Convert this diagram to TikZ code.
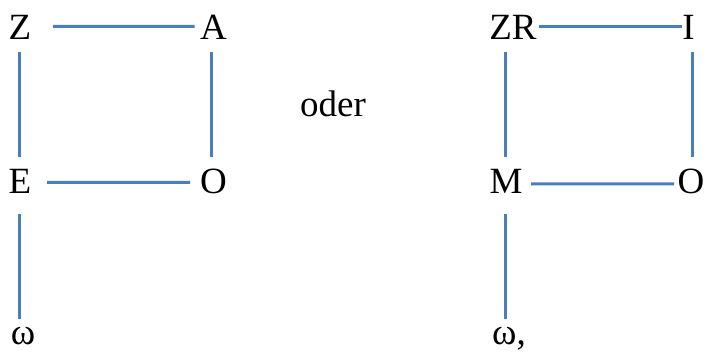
\documentclass[tikz,border=0pt]{standalone}
\usepackage{fontspec}
\setmainfont{Liberation Serif}
\definecolor{linkblue}{HTML}{4A7EBB}
\begin{document}
\begin{tikzpicture}[x=1pt,y=-1pt,
  lbl/.style={inner sep=0pt,anchor=base,font=\fontsize{37}{43}\selectfont},
  link/.style={draw=linkblue,line width=3pt}]
\useasboundingbox (0,0) rectangle (705,352);
% left diagram
\node[lbl] (Z) at (20,40) {Z};
\node[lbl] (A) at (213.5,40) {A};
\node[lbl] (E) at (20,194) {E};
\node[lbl] (O1) at (213.5,194) {O};
\node[lbl] (w1) at (23,345) {ω};
% middle
\node[lbl,anchor=base west] (oder) at (300,117) {oder};
% right diagram
\node[lbl] (ZR) at (513,40) {ZR};
\node[lbl] (I) at (688.5,40) {I};
\node[lbl] (M) at (506,194) {M};
\node[lbl] (O2) at (691,194) {O};
\node[lbl,anchor=base west] (w2) at (492,345) {ω,};
% left connectors
\draw[link,shorten <=33pt,shorten >=19pt] ([yshift=1.5pt]Z.center) -- ([yshift=1.5pt]A.center);
\draw[link,shorten <=24.5pt,shorten >=24.5pt] ([xshift=-0.5pt]Z.center) -- ([xshift=-0.5pt]E.center);
\draw[link,shorten <=24.5pt,shorten >=24.5pt] ([xshift=-2.5pt]A.center) -- ([xshift=-2.5pt]O1.center);
\draw[link,shorten <=27pt,shorten >=23.5pt] ([yshift=-0.5pt]E.center) -- ([yshift=-0.5pt]O1.center);
\draw[link,shorten <=32.5pt,shorten >=29pt] ([xshift=-0.5pt]E.center) -- ([xshift=-0.5pt,yshift=-3pt]E.center |- w1.base);
% right connectors
\draw[link,shorten <=26pt,shorten >=6.5pt] ([yshift=1.5pt]ZR.center) -- ([yshift=1.5pt]I.center);
\draw[link,shorten <=24.5pt,shorten >=24.5pt] ([xshift=-1pt]M.center |- ZR.center) -- ([xshift=-1pt]M.center);
\draw[link,shorten <=24.5pt,shorten >=24.5pt] ([xshift=1.5pt]O2.center |- I.center) -- ([xshift=1.5pt]O2.center);
\draw[link,shorten <=25pt,shorten >=17pt] ([yshift=-2pt]M.center) -- ([yshift=-2pt]O2.center);
\draw[link,shorten <=32.5pt,shorten >=29pt] ([xshift=-1pt]M.center) -- ([xshift=-1pt,yshift=-3pt]M.center |- w2.base);
\end{tikzpicture}
\end{document}
